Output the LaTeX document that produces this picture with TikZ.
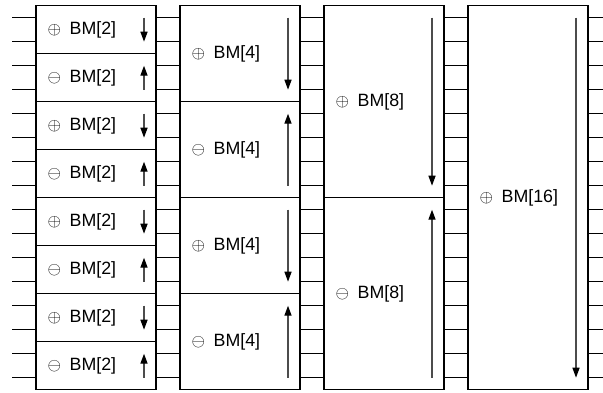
\documentclass[tikz,border=0pt]{standalone}
\usepackage{fontspec}
\setmainfont{Liberation Sans}
\usetikzlibrary{arrows.meta,calc}
\tikzset{
  bmbox/.style={draw, line width=1.3pt, rectangle, minimum width=120pt, inner sep=0pt, outer sep=0pt, anchor=north west},
  wire/.style={line width=1.3pt},
  sortarrow/.style={line width=1.4pt, draw=black!70, -{Triangle[length=10pt,width=7pt,color=black]}},
  bmlabel/.style={anchor=west, inner sep=0pt, font=\fontsize{17.8}{20}\selectfont},
}
\begin{document}
\begin{tikzpicture}[x=1pt,y=-1pt]
\useasboundingbox (0,0) rectangle (603,392);
\def\T{5.7}
\foreach \c/\x/\n/\k in {1/36/8/2, 2/180/4/4, 3/324/2/8, 4/468/1/16} {
  \pgfmathsetmacro\h{384/\n}
  \foreach \i in {1,...,\n} {
    \node[bmbox, minimum height={\h*1pt}] (B\c-\i) at (\x, {\T+(\i-1)*\h}) {};
    \pgfmathtruncatemacro\odd{mod(\i,2)}
    \ifnum\odd=1
      \node[bmlabel] (L\c-\i) at ($(B\c-\i.west)+(11.5,0)$) {$\oplus$\hspace{8.5pt}BM[\k]};
      \coordinate (As\c-\i) at ($(B\c-\i.north east)+(-12,12)$);
      \coordinate (Ae\c-\i) at ($(B\c-\i.south east)+(-12,-12)$);
    \else
      \node[bmlabel] (L\c-\i) at ($(B\c-\i.west)+(11.5,0)$) {$\ominus$\hspace{8.5pt}BM[\k]};
      \coordinate (As\c-\i) at ($(B\c-\i.south east)+(-12,-12)$);
      \coordinate (Ae\c-\i) at ($(B\c-\i.north east)+(-12,12)$);
    \fi
    \draw[sortarrow] (As\c-\i) -- (Ae\c-\i);
  }
}
\foreach \k in {0,...,15} {
  \coordinate (W\k) at (12, {\T+12+24*\k});
  \coordinate (E\k) at (603, {\T+12+24*\k});
  \draw[wire] (W\k) -- (W\k -| B1-1.west);
  \draw[wire] (W\k -| B1-1.east) -- (W\k -| B2-1.west);
  \draw[wire] (W\k -| B2-1.east) -- (W\k -| B3-1.west);
  \draw[wire] (W\k -| B3-1.east) -- (W\k -| B4-1.west);
  \draw[wire] (W\k -| B4-1.east) -- (E\k);
}
\end{tikzpicture}
\end{document}
